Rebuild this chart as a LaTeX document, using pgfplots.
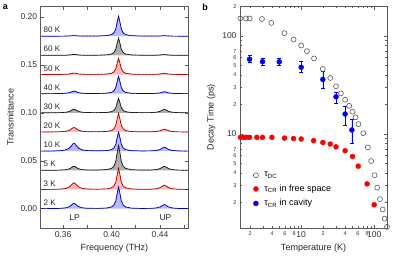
\documentclass[border=0pt]{standalone}
\usepackage{fontspec}
\setmainfont{Liberation Sans}
\usepackage{pgfplots}
\usepackage{pgfplotstable}
\pgfplotsset{compat=1.18}

% spectra in units of 1e-3 (transmittance above each trace's baseline)
\pgfplotstableread{
x t2 t3 t5 t10 t20 t30 t40 t50 t60 t80
0.342 0.09 0.10 0.07 0.12 0.07 0.06 0.05 0.03 0.03 0.02
0.352 0.19 0.24 0.16 0.27 0.16 0.13 0.10 0.06 0.05 0.04
0.358 0.41 0.52 0.33 0.60 0.35 0.29 0.21 0.13 0.09 0.07
0.362 0.89 1.12 0.70 1.32 0.76 0.62 0.45 0.26 0.18 0.13
0.365 2.02 2.56 1.56 3.03 1.73 1.40 1.01 0.57 0.39 0.25
0.367 3.86 4.89 2.96 5.79 3.29 2.66 1.91 1.07 0.73 0.46
0.368 5.00 6.35 3.84 7.52 4.27 3.46 2.47 1.39 0.94 0.58
0.369 5.55 7.05 4.26 8.35 4.75 3.84 2.74 1.54 1.04 0.65
0.370 5.01 6.36 3.85 7.52 4.28 3.46 2.47 1.39 0.94 0.59
0.371 3.87 4.91 2.98 5.80 3.30 2.67 1.91 1.08 0.74 0.47
0.373 2.05 2.59 1.59 3.05 1.75 1.42 1.03 0.59 0.41 0.27
0.376 0.93 1.16 0.74 1.36 0.80 0.64 0.48 0.29 0.22 0.16
0.380 0.49 0.59 0.41 0.67 0.42 0.34 0.27 0.18 0.15 0.13
0.388 0.35 0.38 0.35 0.39 0.30 0.24 0.23 0.19 0.19 0.20
0.396 0.74 0.74 0.82 0.70 0.64 0.50 0.56 0.52 0.54 0.62
0.400 1.86 1.82 2.11 1.68 1.60 1.24 1.46 1.36 1.44 1.67
0.402 3.84 3.75 4.40 3.43 3.31 2.56 3.04 2.86 3.02 3.52
0.4035 8.04 7.84 9.23 7.15 6.94 5.35 6.39 6.02 6.37 7.42
0.4048 16.86 16.42 19.37 14.94 14.54 11.19 13.41 12.65 13.39 15.61
0.4058 22.66 22.07 26.05 20.08 19.55 15.05 18.03 17.02 18.01 21.01
0.4068 16.85 16.42 19.37 14.94 14.54 11.19 13.40 12.65 13.39 15.61
0.4081 8.04 7.84 9.23 7.14 6.93 5.34 6.38 6.02 6.37 7.42
0.4096 3.84 3.75 4.40 3.42 3.31 2.55 3.04 2.86 3.02 3.51
0.4116 1.85 1.81 2.11 1.66 1.59 1.24 1.45 1.36 1.43 1.67
0.416 0.68 0.68 0.77 0.62 0.58 0.46 0.52 0.48 0.50 0.58
0.424 0.31 0.32 0.34 0.30 0.25 0.23 0.21 0.18 0.18 0.20
0.432 0.38 0.39 0.38 0.37 0.28 0.30 0.21 0.16 0.13 0.12
0.437 0.81 0.85 0.80 0.79 0.58 0.69 0.40 0.28 0.19 0.15
0.440 1.83 1.91 1.80 1.79 1.29 1.56 0.87 0.58 0.38 0.26
0.442 3.41 3.57 3.34 3.33 2.39 2.92 1.60 1.05 0.67 0.44
0.4436 4.35 4.56 4.26 4.25 3.05 3.74 2.04 1.34 0.84 0.54
0.445 3.58 3.75 3.50 3.50 2.51 3.07 1.68 1.10 0.69 0.45
0.447 1.93 2.02 1.89 1.89 1.35 1.65 0.91 0.60 0.38 0.26
0.450 0.82 0.85 0.80 0.80 0.58 0.69 0.39 0.26 0.17 0.12
0.455 0.31 0.33 0.31 0.31 0.22 0.26 0.16 0.11 0.08 0.06
0.463 0.13 0.13 0.13 0.12 0.09 0.11 0.07 0.05 0.04 0.03
}\spectra

% tau_DC
\pgfplotstableread{
T tau
1.47 151
1.75 151
1.96 151
2.9 149
3.9 136
5.9 107
7.85 92
10 80
12 70
15 59
19.8 46
25 37.3
30 30.7
35 26
40 22.4
45.5 19.4
50.5 16.9
55.5 14.8
61 12.6
71 10.2
82 7.3
91 5.3
101 3.8
110 2.84
120 2.17
131 1.70
139 1.37
150 1.13
}\tauDC

% tau_CR free space
\pgfplotstableread{
T tau
1.47 9.25
1.62 9.25
1.75 9.25
1.96 9.25
2.47 9.25
2.95 9.25
3.97 9.25
5.9 9.1
7.85 9.0
10 8.9
14.8 8.55
19.8 8.2
25 7.9
30 7.4
40 6.76
50.5 5.9
60.5 4.7
80 3.1
100 1.9
}\tauFree

% tau_CR cavity: T tau plus minus
\pgfplotstableread{
T tau ep em
1.96 58 5 4
2.95 54.7 4.6 4.1
5.0 54.5 4.6 4.1
10 48 6.7 5.4
19.8 36 8 6.7
30 24 2.7 3.3
40 16 3.4 3.8
49.5 11 3.2 3.0
}\tauCav

\definecolor{fillblue}{RGB}{185,185,255}
\definecolor{fillred}{RGB}{255,185,185}
\definecolor{fillgray}{RGB}{175,175,175}
\definecolor{framec}{RGB}{90,90,90}

\newcommand{\trace}[4]{%
  \addplot[draw=none, fill=#4, forget plot] table[x=x, y expr=#2+0.001*\thisrow{#1}] {\spectra} -- cycle;
  \addplot[#3, line width=0.7pt, forget plot] table[x=x, y expr=#2+0.001*\thisrow{#1}] {\spectra};
  \addplot[black, line width=0.45pt, dash pattern=on 0.5pt off 0.9pt, forget plot] table[x=x, y expr=#2+0.001*\thisrow{#1}] {\spectra};
}

\begin{document}
\begin{tikzpicture}
\useasboundingbox (0,0) rectangle (393pt,257pt);
\pgfplotsset{
  every axis/.append style={
    axis line style={framec, line width=0.8pt},
    every tick/.style={framec, line width=0.6pt},
    tick align=inside,
    major tick length=3.5pt,
    minor tick length=2pt,
    tick label style={font=\fontsize{8.5}{9}\selectfont, text=black!80},
    label style={font=\fontsize{9}{10}\selectfont, text=black!85},
  }
}
% ---------------- panel a ----------------
\begin{axis}[
  at={(40.7pt,29pt)}, anchor=south west, scale only axis,
  width=147.6pt, height=221.5pt,
  xmin=0.3415, xmax=0.4634, ymin=-0.0201, ymax=0.211,
  xtick={0.36,0.38,0.40,0.42,0.44,0.46},
  xticklabels={0.36,,0.40,,0.44,},
  ytick={0,0.05,0.10,0.15,0.20},
  yticklabels={0.00,0.05,0.10,0.15,0.20},
  xlabel={Frequency (THz)}, ylabel={Transmittance},
]
\trace{t80}{0.18}{blue}{fillblue}
\trace{t60}{0.16}{black!85}{fillgray}
\trace{t50}{0.14}{red}{fillred}
\trace{t40}{0.12}{blue}{fillblue}
\trace{t30}{0.10}{black!85}{fillgray}
\trace{t20}{0.08}{red}{fillred}
\trace{t10}{0.06}{blue}{fillblue}
\trace{t5}{0.04}{black!85}{fillgray}
\trace{t3}{0.02}{red}{fillred}
\trace{t2}{0.00}{blue}{fillblue}
\begin{scope}[every node/.style={anchor=west, font=\fontsize{8}{8}\selectfont, text=black!85, inner sep=0pt}]
\node at (axis cs:0.3438,0.1865) {80 K};
\node at (axis cs:0.3438,0.1665) {60 K};
\node at (axis cs:0.3438,0.1465) {50 K};
\node at (axis cs:0.3438,0.1265) {40 K};
\node at (axis cs:0.3438,0.1065) {30 K};
\node at (axis cs:0.3438,0.0865) {20 K};
\node at (axis cs:0.3438,0.0665) {10 K};
\node at (axis cs:0.3438,0.0465) {5 K};
\node at (axis cs:0.3438,0.0265) {3 K};
\node at (axis cs:0.3438,0.0065) {2 K};
\end{scope}
\node[font=\fontsize{8.5}{9}\selectfont, text=black!85] at (axis cs:0.3695,-0.0095) {LP};
\node[font=\fontsize{8.5}{9}\selectfont, text=black!85] at (axis cs:0.4445,-0.0095) {UP};
\end{axis}

% ---------------- panel b ----------------
\begin{axis}[
  at={(240pt,29pt)}, anchor=south west, scale only axis,
  width=147pt, height=221.5pt,
  xmode=log, ymode=log,
  xmin=1.45, xmax=150, ymin=1.1, ymax=200,
  xtick={10,100}, xticklabels={10,100},
  extra x ticks={2,4,6,8,20,40,60,80},
  extra x tick labels={2,4,6,8,2,4,6,8},
  extra x tick style={major tick length=2pt, tick label style={font=\fontsize{5.5}{6}\selectfont}},
  minor xtick={3,5,7,9,30,50,70,90},
  ytick={10,100}, yticklabels={10,100},
  extra y ticks={2,3,4,5,6,7,20,30,40,50,60,70,200},
  extra y tick labels={2,3,4,5,6,7,2,3,4,5,6,7,2},
  extra y tick style={major tick length=2pt, tick label style={font=\fontsize{5.5}{6}\selectfont}},
  minor ytick={8,9,80,90},
  xlabel={Temperature (K)}, ylabel={Decay Time (ps)},
  legend style={at={(0.09,0.262)}, anchor=north west, draw=none, fill=none,
    font=\fontsize{9}{10}\selectfont, row sep=2.5pt, column sep=4pt, inner sep=0pt},
  legend cell align=left,
]
\addplot[only marks, mark=o, mark size=2.5pt, draw=black!65, mark options={line width=0.6pt}] table[x=T, y=tau] {\tauDC};
\addlegendentry{τ\textsubscript{DC}}
\addplot[only marks, mark=*, mark size=2.5pt, color=red, fill=red] table[x=T, y=tau] {\tauFree};
\addlegendentry{τ\textsubscript{CR} in free space}
\addplot[only marks, mark=*, mark size=2.5pt, color=blue, fill=blue,
  error bars/.cd, y dir=both, y explicit,
  error bar style={blue, line width=0.6pt},
  error mark options={rotate=90, blue, mark size=2pt, line width=0.6pt}]
  table[x=T, y=tau, y error plus=ep, y error minus=em] {\tauCav};
\addlegendentry{τ\textsubscript{CR} in cavity}
\end{axis}

\node[font=\bfseries\fontsize{9}{9}\selectfont] at (5.5pt,250pt) {a};
\node[font=\bfseries\fontsize{9}{9}\selectfont] at (205pt,250pt) {b};
\end{tikzpicture}
\end{document}
